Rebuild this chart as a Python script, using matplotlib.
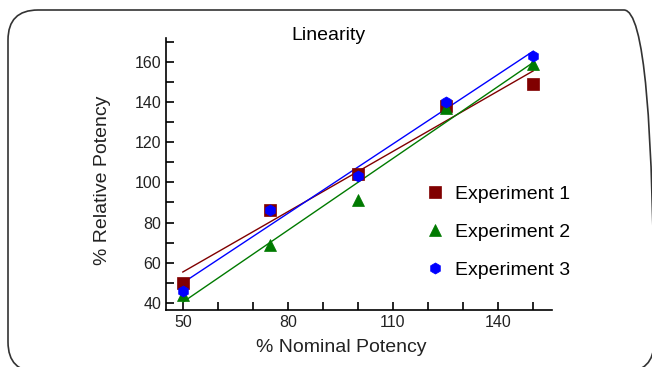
import numpy as np
import matplotlib
matplotlib.use('Agg')
import matplotlib.pyplot as plt
from matplotlib.patches import FancyBboxPatch

plt.rcParams['font.family'] = ['Liberation Sans', 'DejaVu Sans']

nominal = [50, 75, 100, 125, 150]
exp1 = [50, 86, 104, 138, 149]
exp2 = [44, 69, 91, 137, 159]
exp3 = [46, 86, 103, 140, 163]
labels = ['Experiment 1', 'Experiment 2', 'Experiment 3']
colors = ['#800000', '#007a00', '#0000ff']
markers = ['s', '^', 'h']

fig = plt.figure(figsize=(6.52, 3.67), dpi=100)

# rounded frame around the whole picture (inches)
frame = FancyBboxPatch((0.08, -0.05), 6.46, 3.62,
                       boxstyle='round,pad=0,rounding_size=0.3',
                       transform=fig.dpi_scale_trans, fill=False,
                       edgecolor='#333333', linewidth=1.2)
fig.patches.append(frame)

ax = fig.add_axes([166 / 652, 57 / 367, 386 / 652, 272 / 367])

x = np.array(nominal)
for ys, c in zip([exp1, exp2, exp3], colors):
    slope, icpt = np.polyfit(x, ys, 1)
    xs = np.array([50, 150])
    ax.plot(xs, slope * xs + icpt, color=c, linewidth=1)
for ys, lab, c, m in zip([exp1, exp2, exp3], labels, colors, markers):
    ax.plot(x, ys, linestyle='none', marker=m, color=c, markersize=8,
            markeredgewidth=0.5, label=lab)

ax.set_xlim(45.2, 155.4)
ax.set_ylim(36.5, 171.8)
ax.set_xticks([50, 80, 110, 140])
ax.set_xticks(np.arange(50, 151, 10), minor=True)
ax.set_yticks(np.arange(40, 161, 20))
ax.set_yticks(np.arange(40, 171, 10), minor=True)
ax.tick_params(which='both', direction='in', length=6, width=1.2,
               labelsize=11.5, labelcolor='#222222')
ax.spines['top'].set_visible(False)
ax.spines['right'].set_visible(False)
ax.spines['left'].set_linewidth(1.2)
ax.spines['bottom'].set_linewidth(1.2)

fig.text(328 / 652, 332 / 367, 'Linearity', fontsize=14, ha='center', va='center')
fig.text(341 / 652, 20 / 367, '% Nominal Potency', fontsize=14,
         color='#222222', ha='center', va='center')
fig.text(102 / 652, 187 / 367, '% Relative Potency', fontsize=14,
         color='#222222', ha='center', va='center', rotation=90)

ax.legend(loc='center left', bbox_to_anchor=(0.676, 0.287), frameon=False,
          fontsize=14, handlelength=0.8, handletextpad=0.63, borderpad=0,
          borderaxespad=0, labelspacing=1.05)

fig.savefig('out.png', dpi=100)
